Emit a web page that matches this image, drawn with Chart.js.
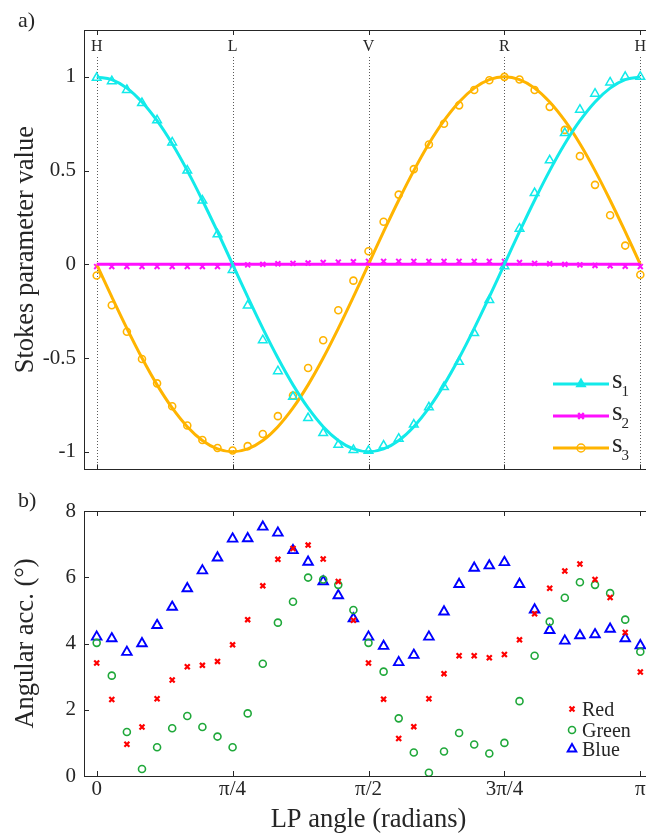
<!DOCTYPE html>
<html>
<head>
<meta charset="utf-8">
<script src="https://cdn.jsdelivr.net/npm/chart.js@4.4.1/dist/chart.umd.min.js"></script>
<style>
html, body { margin: 0; padding: 0; background: #fff; overflow: hidden; }
.wrap { position: absolute; left: 0; width: 680px; }
#wrapTop { top: 0; height: 490px; }
#wrapBot { top: 490px; height: 344px; }
.tag { position: absolute; left: 18px; font: 22px 'Liberation Serif', serif; color: #262626; }
</style>
</head>
<body>
<div class="wrap" id="wrapTop"><canvas id="stokes" width="680" height="490"></canvas></div>
<div class="wrap" id="wrapBot"><canvas id="accuracy" width="680" height="344"></canvas></div>
<div class="tag" style="top:7px">a)</div>
<div class="tag" style="top:487px">b)</div>
<script>
// LP angle of each measurement, degrees (0 .. 180 in 5 degree steps)
const angleDeg = [0, 5, 10, 15, 20, 25, 30, 35, 40, 45, 50, 55, 60, 65, 70, 75, 80, 85, 90,
  95, 100, 105, 110, 115, 120, 125, 130, 135, 140, 145, 150, 155, 160, 165, 170, 175, 180];

// tick positions and labels
const tickDeg = [0, 45, 90, 135, 180];
const polLetters = ['H', 'L', 'V', 'R', 'H'];
const piLabels = ['0', 'π/4', 'π/2', '3π/4', 'π'];
const stokesTicks = [-1, -0.5, 0, 0.5, 1];
const accTicks = [0, 2, 4, 6, 8];

// theory curves read off panel a)
const s1Fit = [1, 0.985, 0.94, 0.866, 0.766, 0.643, 0.5, 0.342, 0.174, 0, -0.174, -0.342, -0.5,
  -0.643, -0.766, -0.866, -0.94, -0.985, -1, -0.985, -0.94, -0.866, -0.766, -0.643, -0.5, -0.342,
  -0.174, 0, 0.174, 0.342, 0.5, 0.643, 0.766, 0.866, 0.94, 0.985, 1];
const s2Fit = [0, 0, 0, 0, 0, 0, 0, 0, 0, 0, 0, 0, 0, 0, 0, 0, 0, 0, 0,
  0, 0, 0, 0, 0, 0, 0, 0, 0, 0, 0, 0, 0, 0, 0, 0, 0, 0];
const s3Fit = [0, -0.174, -0.342, -0.5, -0.643, -0.766, -0.866, -0.94, -0.985, -1, -0.985, -0.94,
  -0.866, -0.766, -0.643, -0.5, -0.342, -0.174, 0, 0.174, 0.342, 0.5, 0.643, 0.766, 0.866, 0.94,
  0.985, 1, 0.985, 0.94, 0.866, 0.766, 0.643, 0.5, 0.342, 0.174, 0];

// measured Stokes parameters
const s1Meas = [0.995, 0.977, 0.93, 0.86, 0.768, 0.65, 0.5, 0.34, 0.16, -0.03, -0.22, -0.405, -0.57,
  -0.707, -0.82, -0.9, -0.963, -0.99, -0.995, -0.967, -0.93, -0.855, -0.763, -0.655, -0.52, -0.367,
  -0.19, -0.01, 0.19, 0.38, 0.555, 0.7, 0.825, 0.91, 0.97, 1.0, 1.0];
const s2Meas = [-0.012, -0.012, -0.012, -0.012, -0.012, -0.012, -0.012, -0.012, -0.012, -0.005,
  -0.003, 0, 0.003, 0.005, 0.007, 0.01, 0.012, 0.014, 0.016, 0.016, 0.016, 0.016, 0.016, 0.016,
  0.016, 0.016, 0.016, 0.016, 0.01, 0.005, 0.003, 0, -0.003, -0.006, -0.008, -0.01, -0.012];
const s3Meas = [-0.06, -0.218, -0.36, -0.505, -0.635, -0.757, -0.86, -0.937, -0.98, -0.993, -0.97,
  -0.905, -0.81, -0.7, -0.553, -0.405, -0.245, -0.087, 0.07, 0.227, 0.372, 0.508, 0.639, 0.75,
  0.848, 0.93, 0.982, 1.0, 0.986, 0.93, 0.84, 0.717, 0.577, 0.424, 0.262, 0.1, -0.056];

// angular accuracy, degrees
const redAcc = [3.41, 2.31, 0.96, 1.48, 2.33, 2.9, 3.3, 3.34, 3.46, 3.96, 4.72, 5.74, 6.54, 6.87,
  6.97, 6.55, 5.87, 4.7, 3.41, 2.32, 1.13, 1.49, 2.33, 3.09, 3.63, 3.63, 3.57, 3.67, 4.11, 4.9,
  5.67, 6.19, 6.4, 5.93, 5.39, 4.33, 3.14];
const greenAcc = [4.02, 3.03, 1.33, 0.21, 0.87, 1.44, 1.81, 1.48, 1.19, 0.87, 1.89, 3.39, 4.63,
  5.26, 5.99, 5.93, 5.77, 5.01, 4.02, 3.15, 1.74, 0.71, 0.1, 0.74, 1.3, 0.95, 0.68, 1.0, 2.26,
  3.63, 4.66, 5.38, 5.85, 5.77, 5.52, 4.72, 3.75];
const blueAcc = [4.2, 4.15, 3.74, 4.0, 4.55, 5.1, 5.66, 6.2, 6.59, 7.16, 7.17, 7.52, 7.34, 6.81,
  6.46, 5.87, 5.45, 4.75, 4.2, 3.92, 3.43, 3.65, 4.2, 4.96, 5.79, 6.28, 6.35, 6.45, 5.79, 5.02,
  4.4, 4.08, 4.24, 4.27, 4.44, 4.15, 3.94];

const ink = '#262626';
const serif = "'Liberation Serif', 'Times New Roman', serif";
const cyan = '#12eaea';
const magenta = '#ff10ff';
const orange = '#ffb400';

function pts(ys) {
  return angleDeg.map((a, i) => ({ x: a, y: ys[i] }));
}
const setTicks = vals => s => { s.ticks = vals.map(v => ({ value: v })); };

function seg(ctx, x1, y1, x2, y2) {
  ctx.beginPath();
  ctx.moveTo(x1, y1);
  ctx.lineTo(x2, y2);
  ctx.stroke();
}

function marker(ctx, style, x, y, r, color, fill) {
  ctx.strokeStyle = color;
  ctx.fillStyle = color;
  ctx.beginPath();
  if (style === 'triangle') {
    ctx.moveTo(x, y - r);
    ctx.lineTo(x + r * 0.866, y + r * 0.5);
    ctx.lineTo(x - r * 0.866, y + r * 0.5);
    ctx.closePath();
  } else if (style === 'circle') {
    ctx.arc(x, y, r, 0, Math.PI * 2);
  } else {
    const d = r * 0.707;
    ctx.moveTo(x - d, y - d); ctx.lineTo(x + d, y + d);
    ctx.moveTo(x + d, y - d); ctx.lineTo(x - d, y + d);
  }
  if (fill) ctx.fill();
  ctx.stroke();
}

// inward tick marks, dotted guide lines and H/L/V/R letters
const framePlugin = {
  id: 'frame',
  beforeDatasetsDraw(chart, args, opts) {
    const { ctx, chartArea: a, scales } = chart;
    ctx.save();
    if (opts.dotted) {
      ctx.strokeStyle = '#5a5a5a';
      ctx.lineWidth = 1;
      ctx.setLineDash([1, 2]);
      tickDeg.forEach(v => {
        const px = Math.round(scales.x.getPixelForValue(v)) + 0.5;
        seg(ctx, px, a.top + 27, px, a.bottom);
      });
      ctx.setLineDash([]);
    }
    ctx.strokeStyle = ink;
    ctx.lineWidth = 1;
    scales.x.ticks.forEach(t => {
      const px = Math.round(scales.x.getPixelForValue(t.value)) + 0.5;
      seg(ctx, px, a.bottom, px, a.bottom - 5);
      seg(ctx, px, a.top, px, a.top + 5);
    });
    scales.y.ticks.forEach(t => {
      const py = Math.round(scales.y.getPixelForValue(t.value)) + 0.5;
      seg(ctx, a.left, py, a.left + 5, py);
      seg(ctx, a.right, py, a.right - 5, py);
    });
    if (opts.letters) {
      ctx.font = '16px ' + serif;
      ctx.fillStyle = ink;
      ctx.textAlign = 'center';
      ctx.textBaseline = 'middle';
      opts.letters.forEach((l, i) => {
        ctx.fillText(l, scales.x.getPixelForValue(tickDeg[i]), a.top + 17);
      });
    }
    ctx.restore();
  }
};

// legend for panel a): line + marker + s with subscript
const stokesLegend = {
  id: 'stokesLegend',
  afterDatasetsDraw(chart) {
    const ctx = chart.ctx;
    const rows = [384, 416, 448];
    ctx.save();
    rows.forEach((y, i) => {
      const line = chart.data.datasets[i];
      const pt = chart.data.datasets[i + 3];
      ctx.lineWidth = 3;
      ctx.strokeStyle = line.borderColor;
      seg(ctx, 553, y, 609, y);
      ctx.lineWidth = pt.pointStyle === 'crossRot' ? 2.5 : 1.5;
      marker(ctx, pt.pointStyle === 'crossRot' ? 'cross' : pt.pointStyle, 581, y,
        pt.pointStyle === 'triangle' ? 5 : 4, line.borderColor, pt.pointStyle === 'triangle');
      ctx.fillStyle = ink;
      ctx.textAlign = 'left';
      ctx.textBaseline = 'alphabetic';
      ctx.font = '27px ' + serif;
      ctx.fillText('s', 612, y + 4);
      const w = ctx.measureText('s').width;
      ctx.font = '15px ' + serif;
      ctx.fillText(String(i + 1), 612 + w - 1, y + 12);
    });
    ctx.restore();
  }
};

// legend for panel b): marker + colour name
const accLegend = {
  id: 'accLegend',
  afterDatasetsDraw(chart) {
    const ctx = chart.ctx;
    const rows = [219, 240, 259];
    ctx.save();
    chart.data.datasets.forEach((ds, i) => {
      const y = rows[i];
      ctx.lineWidth = ds.pointBorderWidth;
      const st = ds.pointStyle === 'crossRot' ? 'cross' : ds.pointStyle;
      marker(ctx, st, 572, y, ds.pointRadius - (st === 'triangle' ? 0.5 : 0), ds.borderColor, false);
      ctx.fillStyle = ink;
      ctx.font = '20px ' + serif;
      ctx.textAlign = 'left';
      ctx.textBaseline = 'alphabetic';
      ctx.fillText(ds.label, 582, y + 7);
    });
    ctx.restore();
  }
};

const tickFont = { family: serif, size: 21 };
const titleFont = { family: serif, size: 26.5 };
const edge = { color: ink, width: 1 };

new Chart(document.getElementById('stokes'), {
  type: 'scatter',
  data: {
    datasets: [
      { label: 's1', data: pts(s1Fit), showLine: true, borderColor: cyan, borderWidth: 3, pointRadius: 0, tension: 0.4 },
      { label: 's2', data: pts(s2Fit), showLine: true, borderColor: magenta, borderWidth: 3, pointRadius: 0 },
      { label: 's3', data: pts(s3Fit), showLine: true, borderColor: orange, borderWidth: 3, pointRadius: 0, tension: 0.4 },
      { label: 's1 meas', data: pts(s1Meas), pointStyle: 'triangle', pointRadius: 5, pointBorderWidth: 1.5,
        borderColor: cyan, backgroundColor: 'rgba(0,0,0,0)' },
      { label: 's2 meas', data: pts(s2Meas), pointStyle: 'crossRot', pointRadius: 3.5, pointBorderWidth: 2,
        borderColor: magenta, backgroundColor: 'rgba(0,0,0,0)' },
      { label: 's3 meas', data: pts(s3Meas), pointStyle: 'circle', pointRadius: 3.5, pointBorderWidth: 1.6,
        borderColor: orange, backgroundColor: 'rgba(0,0,0,0)' }
    ]
  },
  options: {
    responsive: false,
    animation: false,
    layout: { padding: { right: 27 } },
    plugins: {
      legend: { display: false },
      tooltip: { enabled: false },
      frame: { dotted: true, letters: polLetters }
    },
    scales: {
      x: {
        type: 'linear', position: 'bottom', min: -4.2, max: 184.2,
        afterBuildTicks: setTicks(tickDeg),
        afterFit: s => { s.height = 12; },
        ticks: { display: false },
        grid: { drawOnChartArea: false, drawTicks: false },
        border: edge
      },
      x2: {
        type: 'linear', position: 'top', min: -4.2, max: 184.2,
        afterBuildTicks: setTicks(tickDeg),
        afterFit: s => { s.height = 30; },
        ticks: { display: false },
        grid: { drawOnChartArea: false, drawTicks: false },
        border: edge
      },
      y: {
        min: -1.094, max: 1.25,
        afterBuildTicks: setTicks(stokesTicks),
        afterFit: s => { s.width = 84; },
        ticks: { font: tickFont, color: ink, padding: 8, callback: v => String(v) },
        grid: { drawOnChartArea: false, drawTicks: false },
        border: edge,
        title: { display: true, text: 'Stokes parameter value', font: titleFont, color: ink, padding: { top: 10, bottom: 0 } }
      }
    }
  },
  plugins: [framePlugin, stokesLegend]
});

new Chart(document.getElementById('accuracy'), {
  type: 'scatter',
  data: {
    datasets: [
      { label: 'Red', data: pts(redAcc), pointStyle: 'crossRot', pointRadius: 3.5, pointBorderWidth: 2.2,
        borderColor: '#ff0000', backgroundColor: 'rgba(0,0,0,0)' },
      { label: 'Green', data: pts(greenAcc), pointStyle: 'circle', pointRadius: 3.5, pointBorderWidth: 1.6,
        borderColor: '#1fa83a', backgroundColor: 'rgba(0,0,0,0)' },
      { label: 'Blue', data: pts(blueAcc), pointStyle: 'triangle', pointRadius: 5.5, pointBorderWidth: 1.9,
        borderColor: '#0000ff', backgroundColor: 'rgba(0,0,0,0)' }
    ]
  },
  options: {
    responsive: false,
    animation: false,
    layout: { padding: { right: 27 } },
    plugins: {
      legend: { display: false },
      tooltip: { enabled: false },
      frame: { dotted: false }
    },
    scales: {
      x: {
        type: 'linear', position: 'bottom', min: -4.2, max: 184.2,
        afterBuildTicks: setTicks(tickDeg),
        afterFit: s => { s.height = 58; },
        ticks: { font: tickFont, color: ink, padding: 1, maxRotation: 0,
          callback: v => piLabels[tickDeg.indexOf(v)] },
        grid: { drawOnChartArea: false, drawTicks: false },
        border: edge,
        title: { display: true, text: 'LP angle (radians)', font: titleFont, color: ink, padding: { top: 0, bottom: -2 } }
      },
      x2: {
        type: 'linear', position: 'top', min: -4.2, max: 184.2,
        afterBuildTicks: setTicks(tickDeg),
        afterFit: s => { s.height = 21; },
        ticks: { display: false },
        grid: { drawOnChartArea: false, drawTicks: false },
        border: edge
      },
      y: {
        min: 0, max: 8,
        afterBuildTicks: setTicks(accTicks),
        afterFit: s => { s.width = 84; },
        ticks: { font: tickFont, color: ink, padding: 8 },
        grid: { drawOnChartArea: false, drawTicks: false },
        border: edge,
        title: { display: true, text: 'Angular acc. (°)', font: titleFont, color: ink, padding: { top: 10, bottom: 0 } }
      }
    }
  },
  plugins: [framePlugin, accLegend]
});
</script>
</body>
</html>
